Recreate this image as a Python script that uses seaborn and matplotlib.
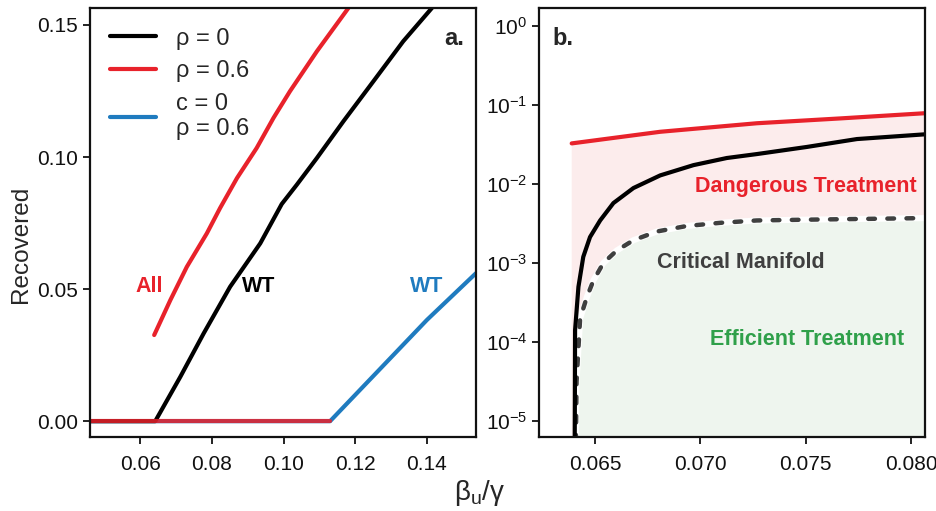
import numpy as np
import pandas as pd
import matplotlib
matplotlib.use("Agg")
import matplotlib.pyplot as plt
import seaborn as sns
from matplotlib.lines import Line2D
from matplotlib.ticker import FixedLocator

# ---------------- data: panel a ----------------
black_x = [0.046, 0.0642, 0.0712, 0.0777, 0.0851, 0.0935, 0.0995, 0.1037, 0.1093, 0.1167, 0.1251, 0.1334, 0.1414]
black_y = [0.0, 0.0, 0.0168, 0.0332, 0.0509, 0.0673, 0.0822, 0.0895, 0.0996, 0.1135, 0.1287, 0.1438, 0.1564]
red_flat_x = [0.046, 0.113]
red_flat_y = [0.0, 0.0]
red_x = [0.0639, 0.0684, 0.0730, 0.0786, 0.0823, 0.0870, 0.0925, 0.0972, 0.1018, 0.1093, 0.1181]
red_y = [0.0326, 0.0458, 0.0584, 0.0711, 0.0807, 0.0920, 0.1034, 0.1148, 0.1249, 0.1400, 0.1564]
blue_x = [0.046, 0.113, 0.140, 0.1537]
blue_y = [0.0, 0.0, 0.0383, 0.056]

# ---------------- data: panel b ----------------
b_red_x = [0.06389, 0.06809, 0.07268, 0.07663, 0.08066]
b_red_logy = [-1.485, -1.338, -1.230, -1.169, -1.103]
b_black_x = [0.06403, 0.06404, 0.06405, 0.06421, 0.06444, 0.06476, 0.06524, 0.06587, 0.06682,
             0.06809, 0.06967, 0.07125, 0.07268, 0.07505, 0.07743, 0.08066]
b_black_logy = [-5.5, -4.8, -3.85, -3.30, -2.92, -2.67, -2.46, -2.24, -2.05,
                -1.89, -1.76, -1.67, -1.62, -1.53, -1.43, -1.37]
b_dash_x = [0.06408, 0.06412, 0.06429, 0.06461, 0.06492, 0.06539, 0.06603, 0.06682, 0.06793,
            0.06935, 0.07094, 0.07268, 0.07505, 0.08066]
b_dash_logy = [-5.5, -4.5, -3.70, -3.43, -3.22, -3.00, -2.84, -2.71, -2.60,
               -2.53, -2.49, -2.46, -2.45, -2.43]

a_xticks = [0.06, 0.08, 0.10, 0.12, 0.14]
a_yticks = [0.00, 0.05, 0.10, 0.15]
b_xticks = [0.065, 0.070, 0.075, 0.080]
b_yticks = [1e-5, 1e-4, 1e-3, 1e-2, 1e-1, 1e0]
legend_labels = ["ρ = 0", "ρ = 0.6", "c = 0\nρ = 0.6"]

RED = "#e8222b"
BLACK = "#000000"
BLUE = "#1f7bbf"
GRAY = "#3f3f3f"
PINK = "#fcecec"
GREEN = "#eef5ee"
GREEN_TXT = "#2fa04a"

sns.set_theme(style="ticks")
plt.rcParams["font.family"] = ["Liberation Sans", "DejaVu Sans"]
plt.rcParams["mathtext.fontset"] = "custom"
plt.rcParams["mathtext.rm"] = "Liberation Sans"
plt.rcParams["mathtext.it"] = "Liberation Sans:italic"
plt.rcParams["axes.linewidth"] = 1.6

fig = plt.figure(figsize=(9.36, 5.11), dpi=100)
axa = fig.add_axes([0.0962, 0.1448, 0.4123, 0.8395])
axb = fig.add_axes([0.5759, 0.1448, 0.4123, 0.8395])

def line(ax, x, y, color, lw=3, **kw):
    df = pd.DataFrame({"x": x, "y": y})
    sns.lineplot(data=df, x="x", y="y", ax=ax, color=color, lw=lw, sort=False,
                 estimator=None, legend=False, **kw)

# panel a
line(axa, blue_x, blue_y, BLUE)
line(axa, black_x, black_y, BLACK)
line(axa, red_flat_x, red_flat_y, RED, alpha=0.85)
line(axa, red_x, red_y, RED, solid_capstyle="round")
axa.set_xlim(0.046, 0.1537)
axa.set_ylim(-0.006, 0.1564)
axa.set_xticks(a_xticks)
axa.set_xticklabels([f"{v:.2f}" for v in a_xticks])
axa.set_yticks(a_yticks)
axa.set_yticklabels([f"{v:.2f}" for v in a_yticks])
axa.set_xlabel("")
axa.set_ylabel("Recovered", fontsize=17.5)
axa.yaxis.set_label_coords(-0.150, 0.45)
axa.text(0.0625, 0.0508, "All", color=RED, fontsize=15.5, fontweight="bold", ha="center", va="center")
axa.text(0.0931, 0.0508, "WT", color=BLACK, fontsize=15.5, fontweight="bold", ha="center", va="center")
axa.text(0.1400, 0.0508, "WT", color=BLUE, fontsize=15.5, fontweight="bold", ha="center", va="center")
axa.text(0.97, 0.955, "a.", transform=axa.transAxes, fontsize=17, fontweight="bold", ha="right", va="top")
handles = [Line2D([], [], color=BLACK, lw=3), Line2D([], [], color=RED, lw=3), Line2D([], [], color=BLUE, lw=3)]
axa.legend(handles, legend_labels, loc="upper left", frameon=False,
           fontsize=17, handlelength=1.95, handletextpad=0.85, labelspacing=0.45,
           bbox_to_anchor=(0.052, 0.954), borderaxespad=0.0, borderpad=0.0)

# panel b
dash_y = [10 ** v for v in b_dash_logy]
fx = b_red_x + b_dash_x[::-1] + [b_red_x[0]]
fy = [10 ** v for v in b_red_logy] + dash_y[::-1] + [10 ** -5.5]
axb.fill(fx, fy, color=PINK, lw=0, zorder=0)
gx = b_dash_x + [b_dash_x[-1], b_dash_x[0]]
gy = dash_y + [10 ** -6, 10 ** -6]
axb.fill(gx, gy, color=GREEN, lw=0, zorder=0)
line(axb, b_dash_x, dash_y, "white", lw=4.4)
line(axb, b_dash_x, dash_y, GRAY, lw=3.2, linestyle=(0, (1.5, 2.8)), dash_capstyle="round")
line(axb, b_black_x, [10 ** v for v in b_black_logy], BLACK)
line(axb, b_red_x, [10 ** v for v in b_red_logy], RED)
axb.set_yscale("log")
axb.set_xlim(0.06234, 0.08066)
axb.set_ylim(10 ** -5.2, 10 ** 0.228)
axb.yaxis.set_major_locator(FixedLocator(b_yticks))
axb.yaxis.set_minor_locator(FixedLocator([]))
axb.set_xticks(b_xticks)
axb.set_xticklabels([f"{v:.3f}" for v in b_xticks])
axb.set_xlabel("")
axb.set_ylabel("")
axb.text(0.0750, 10 ** -2.025, "Dangerous Treatment", color=RED, fontsize=15.5, fontweight="bold", ha="center", va="center")
axb.text(0.0719, 10 ** -2.99, "Critical Manifold", color=GRAY, fontsize=15.5, fontweight="bold", ha="center", va="center")
axb.text(0.07507, 10 ** -3.97, "Efficient Treatment", color=GREEN_TXT, fontsize=15.5, fontweight="bold", ha="center", va="center")
axb.text(0.035, 0.955, "b.", transform=axb.transAxes, fontsize=17, fontweight="bold", ha="left", va="top")

for ax in (axa, axb):
    for s in ax.spines.values():
        s.set_visible(True)
        s.set_linewidth(1.6)
        s.set_color("#111111")
    ax.tick_params(axis="both", direction="out", length=5, width=1.3, labelsize=15, colors="#111111")
    ax.tick_params(axis="x", pad=8)

fig.text(0.512, 0.035, r"$\mathregular{β_u/γ}$", fontsize=20, ha="center", va="center")

fig.savefig("out.png", dpi=100)
